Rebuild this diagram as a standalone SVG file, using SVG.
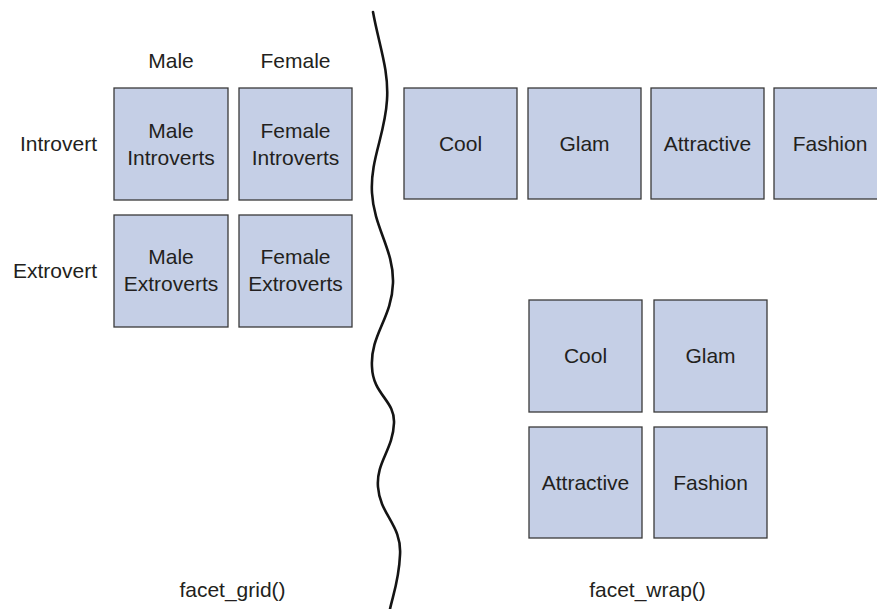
<svg xmlns="http://www.w3.org/2000/svg" width="877" height="609" viewBox="0 0 877 609">
<style>
.box{fill:#c5cfe6;stroke:#3a3a3a;stroke-width:1.3}
text{font-family:"Liberation Sans",Arial,sans-serif;font-size:21px;fill:#231f20}
.c{text-anchor:middle}
.r{text-anchor:end}
.wave{fill:none;stroke:#141414;stroke-width:2.6;stroke-linecap:round}
</style>
<rect width="877" height="609" fill="#ffffff"/>
<g id="grid-labels">
<text class="c" x="171" y="68">Male</text>
<text class="c" x="295.5" y="68">Female</text>
<text class="r" x="97" y="151">Introvert</text>
<text class="r" x="97" y="278">Extrovert</text>
<text class="c" x="232.5" y="597">facet_grid()</text>
</g>
<g id="male-introverts">
<rect class="box" x="114" y="88" width="114" height="112"/>
<text class="c" x="171" y="138">Male</text>
<text class="c" x="171" y="165">Introverts</text>
</g>
<g id="female-introverts">
<rect class="box" x="239" y="88" width="113" height="112"/>
<text class="c" x="295.5" y="138">Female</text>
<text class="c" x="295.5" y="165">Introverts</text>
</g>
<g id="male-extroverts">
<rect class="box" x="114" y="215" width="114" height="112"/>
<text class="c" x="171" y="264">Male</text>
<text class="c" x="171" y="291">Extroverts</text>
</g>
<g id="female-extroverts">
<rect class="box" x="239" y="215" width="113" height="112"/>
<text class="c" x="295.5" y="264">Female</text>
<text class="c" x="295.5" y="291">Extroverts</text>
</g>
<g id="divider">
<path class="wave" d="M373,12 C379,45 389,70 387,100 C385,135 370,160 372,193 C374,228 394,250 393,283 C392,318 370,335 372,367 C373,395 395,400 394,423 C393,450 376,462 378,487 C380,515 402,525 400,555 C399,580 393,595 390,609"/>
</g>
<g id="wrap-row-cool">
<rect class="box" x="404" y="88" width="113" height="111"/>
<text class="c" x="460.5" y="151">Cool</text>
</g>
<g id="wrap-row-glam">
<rect class="box" x="528" y="88" width="113" height="111"/>
<text class="c" x="584.5" y="151">Glam</text>
</g>
<g id="wrap-row-attractive">
<rect class="box" x="651" y="88" width="113" height="111"/>
<text class="c" x="707.5" y="151">Attractive</text>
</g>
<g id="wrap-row-fashion">
<rect class="box" x="774" y="88" width="113" height="111"/>
<text class="c" x="830" y="151">Fashion</text>
</g>
<g id="wrap-cool">
<rect class="box" x="529" y="300" width="113" height="112"/>
<text class="c" x="585.5" y="363">Cool</text>
</g>
<g id="wrap-glam">
<rect class="box" x="654" y="300" width="113" height="112"/>
<text class="c" x="710.5" y="363">Glam</text>
</g>
<g id="wrap-attractive">
<rect class="box" x="529" y="427" width="113" height="111"/>
<text class="c" x="585.5" y="490">Attractive</text>
</g>
<g id="wrap-fashion">
<rect class="box" x="654" y="427" width="113" height="111"/>
<text class="c" x="710.5" y="490">Fashion</text>
</g>
<g id="wrap-labels">
<text class="c" x="647.5" y="597">facet_wrap()</text>
</g>
</svg>
